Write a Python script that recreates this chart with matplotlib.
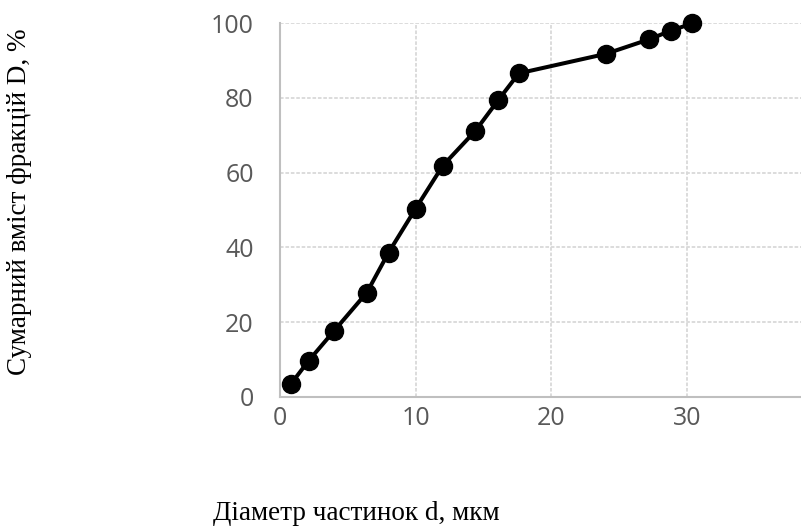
import matplotlib
matplotlib.use("Agg")
import matplotlib.pyplot as plt

# particle diameter, um
diameter = [0.8, 2.1, 4.0, 6.4, 8.0, 10.0, 12.0, 14.4, 16.1, 17.6, 24.0, 27.2, 28.8, 30.4]
# cumulative content, %
cumulative = [3.4, 9.6, 17.7, 27.9, 38.6, 50.4, 61.9, 71.2, 79.5, 86.6, 91.8, 95.7, 98.0, 100.0]

x_ticks = [0, 10, 20, 30]
y_ticks = [0, 20, 40, 60, 80, 100]

fig = plt.figure(figsize=(8.01, 5.32), dpi=100)
ax = fig.add_axes([0.3496, 0.2543, 0.6504, 0.7019])

ax.plot(diameter, cumulative, color='black', lw=2.9, marker='o', ms=13,
        clip_on=False, zorder=3)

ax.set_xlim(0, 38.4)
ax.set_ylim(0, 100)
ax.set_xticks(x_ticks)
ax.set_yticks(y_ticks)

ax.grid(True, color='#d9d9d9', lw=1.3, ls=(0, (2, 1)))
ax.set_axisbelow(True)
for s in ['top', 'right']:
    ax.spines[s].set_visible(False)
for s in ['left', 'bottom']:
    ax.spines[s].set_color('#bfbfbf')
    ax.spines[s].set_linewidth(1.5)

ax.tick_params(length=0, labelsize=18, labelcolor='#595959')
ax.tick_params(axis='y', pad=19)
ax.tick_params(axis='x', pad=7)
for lab in ax.get_xticklabels() + ax.get_yticklabels():
    lab.set_fontfamily('Open Sans')

fig.text(0.445, 0.034, 'Діаметр частинок d, мкм', family='Liberation Serif',
         fontsize=19.5, ha='center', va='center')
fig.text(0.024, 0.62, 'Сумарний вміст фракцій D, %', family='Liberation Serif',
         fontsize=19.5, ha='center', va='center', rotation=90)

fig.savefig('out.png', dpi=100)
